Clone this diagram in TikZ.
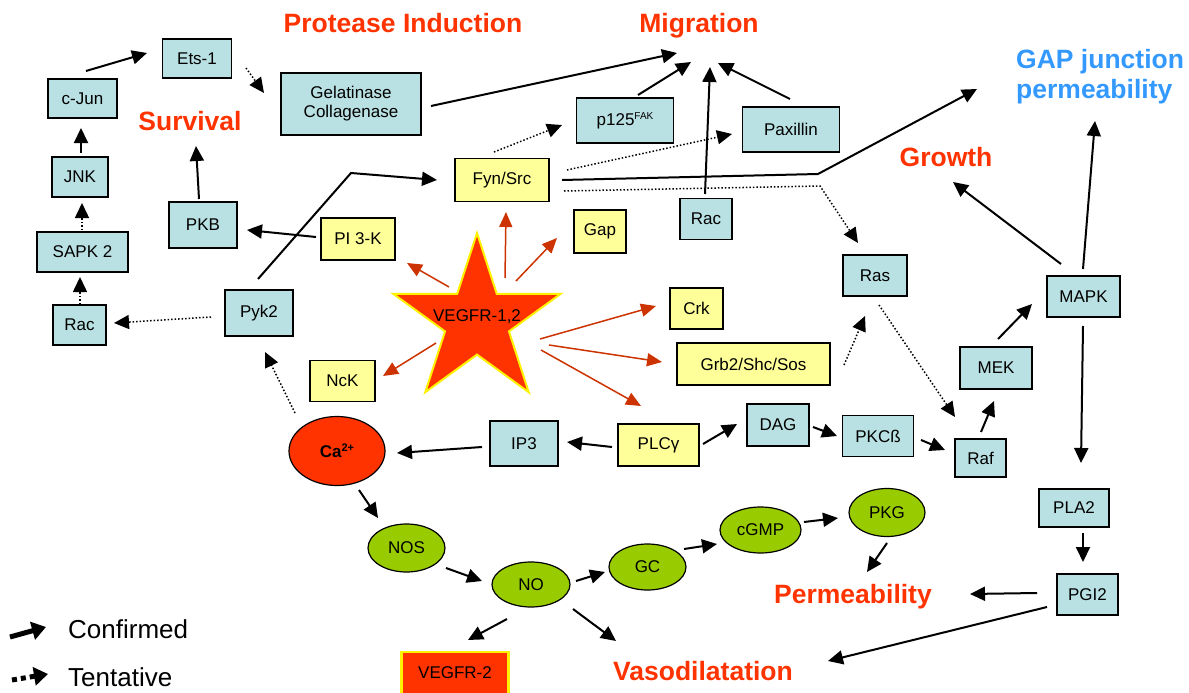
\documentclass[tikz,border=0pt]{standalone}
\usepackage{fontspec}
\setmainfont{Liberation Sans}
\usetikzlibrary{arrows.meta,shapes.geometric}
\definecolor{boxblue}{RGB}{185,224,226}
\definecolor{boxyellow}{RGB}{255,255,153}
\definecolor{vred}{RGB}{255,51,0}
\definecolor{vgreen}{RGB}{153,204,0}
\definecolor{arrred}{RGB}{204,51,0}
\definecolor{gapblue}{RGB}{51,153,255}

\begin{document}
\begin{tikzpicture}[x=1pt,y=-1pt,
  bx/.style 2 args={draw,line width=1.5pt,inner sep=0,minimum width=#1pt,minimum height=#2pt,font=\fontsize{17}{19}\selectfont},
  bb/.style 2 args={bx={#1}{#2},fill=boxblue},
  yb/.style 2 args={bx={#1}{#2},fill=boxyellow},
  gov/.style 2 args={ellipse,draw,line width=1.2pt,fill=vgreen,inner sep=0,minimum width=#1pt,minimum height=#2pt,font=\fontsize{17}{19}\selectfont},
  lab/.style={text=vred,font=\fontsize{26.5}{30}\selectfont\bfseries,inner sep=0,anchor=base},
  conf/.style={line width=2pt,-{Triangle[length=15pt,width=14pt]}},
  tent/.style={line width=1.5pt,dash pattern=on 1.5pt off 2pt,-{Triangle[length=15pt,width=14pt]}},
  vr/.style={arrred,line width=1.5pt,-{Triangle[length=15pt,width=13pt]}}]

\useasboundingbox (0,0) rectangle (1189,693);

\node[lab] (prot) at (403,33) {Protease Induction};
\node[lab] (mig) at (699,33) {Migration};
\node[lab] (surv) at (190,130) {Survival};
\node[lab] (grow) at (946,166) {Growth};
\node[lab] (perm) at (853,603) {Permeability};
\node[lab] (vaso) at (703,680) {Vasodilatation};
\node[lab,text=gapblue,anchor=north west,align=left] (gapj) at (1016,49) {GAP junction\\permeability};

\node[bb={69}{39}] (ets) at (197,58.5) {Ets-1};
\node[bb={69}{39}] (cjun) at (82.5,98.5) {c-Jun};
\node[bb={56}{40}] (jnk) at (80,177) {JNK};
\node[bb={91}{40}] (sapk) at (82.5,252) {SAPK 2};
\node[bb={53}{40}] (racl) at (79.5,325) {Rac};
\node[bb={68}{46}] (pkb) at (203,225) {PKB};
\node[bb={68}{46}] (pyk) at (259,313) {Pyk2};
\node[bb={140}{62},align=center] (gel) at (351,104) {Gelatinase\\Collagenase};
\node[bb={97}{45}] (p125) at (625,120.5) {p125\raisebox{6pt}{\fontsize{10}{10}\selectfont FAK}};
\node[bb={97}{45}] (pax) at (791,129.5) {Paxillin};
\node[bb={52}{41}] (racm) at (706,219) {Rac};
\node[bb={64}{41}] (ras) at (875,275.5) {Ras};
\node[bb={73}{41}] (mapk) at (1083.5,296.5) {MAPK};
\node[bb={72}{42}] (mek) at (996,368) {MEK};
\node[bb={51}{38}] (raf) at (980.5,458) {Raf};
\node[bb={71}{41}] (pkc) at (878,436) {PKCß};
\node[bb={62}{42}] (dag) at (778,425) {DAG};
\node[bb={68}{45}] (ip3) at (524,443.5) {IP3};
\node[bb={70}{38}] (pla) at (1074,508) {PLA2};
\node[bb={61}{41}] (pgi) at (1087.5,594.5) {PGI2};

\node[yb={94}{43}] (fyn) at (502,180) {Fyn/Src};
\node[yb={74}{42}] (pi3k) at (358,239) {PI 3-K};
\node[yb={52}{43}] (gap) at (600,231.5) {Gap};
\node[yb={53}{41}] (crk) at (696.5,308.5) {Crk};
\node[yb={153}{42}] (grb) at (753.5,364) {Grb2/Shc/Sos};
\node[yb={65}{41}] (nck) at (342.5,381) {NcK};
\node[yb={81}{42}] (plc) at (658.5,445) {PLCγ};

\node[ellipse,draw,line width=1.2pt,fill=vred,inner sep=0,minimum width=96pt,minimum height=69pt,
  font=\fontsize{17}{19}\selectfont\bfseries] (ca) at (337,451) {Ca\raisebox{6pt}{\fontsize{11}{11}\selectfont 2+}};
\node[gov={77}{48}] (nos) at (406.5,548) {NOS};
\node[gov={78}{45}] (no) at (531,584.5) {NO};
\node[gov={77}{46}] (gc) at (647.5,567) {GC};
\node[gov={81}{46}] (cgmp) at (760.5,530) {cGMP};
\node[gov={76}{48}] (pkg) at (887,512.5) {PKG};

\node[star,star points=5,star point ratio=2.618,minimum size=176pt,inner sep=0,draw=yellow,line width=2pt,
  fill=vred,font=\fontsize{17}{19}\selectfont] (vegf) at (477,321) {\smash{\makebox[0pt]{VEGFR-1,2}}};
\node[draw=yellow,line width=2.5pt,fill=vred,inner sep=0,minimum width=107pt,minimum height=45pt,
  font=\fontsize{17}{19}\selectfont] (veg2) at (455,674.5) {\raisebox{4pt}{VEGFR-2}};

\node[anchor=base west,inner sep=0,font=\fontsize{26}{30}\selectfont] (lconf) at (68,638) {Confirmed};
\node[anchor=base west,inner sep=0,font=\fontsize{26}{30}\selectfont] (ltent) at (68,686) {Tentative};
\draw[line width=5pt,-{Triangle[length=14pt,width=18pt]}] ([shift={(-58,-1)}]lconf.base west) -- ([shift={(-22,-11)}]lconf.base west);
\draw[line width=5pt,dash pattern=on 5pt off 4pt,-{Triangle[length=14pt,width=18pt]}] ([shift={(-56,-6)}]ltent.base west) -- ([shift={(-20,-12)}]ltent.base west);

\draw[conf] ([shift={(3.5,-27.5)}]cjun.center) -- ([shift={(-50,-5.5)}]ets.center);
\draw[conf] ([shift={(1,-24)}]jnk.center) -- ([shift={(-1.5,29.5)}]cjun.center);
\draw[conf] ([shift={(-4,-26)}]pkb.center) -- ([shift={(6,16)}]surv.base);
\draw[conf] ([shift={(80,2)}]gel.center) -- ([shift={(-22,20)}]mig.base);
\draw[conf] ([shift={(13,-25.5)}]p125.center) -- ([shift={(-8,29)}]mig.base);
\draw[conf] ([shift={(-1,-25)}]racm.center) -- ([shift={(11,34)}]mig.base);
\draw[conf] ([shift={(-1,-30.5)}]pax.center) -- ([shift={(19,30)}]mig.base);
\draw[conf] ([shift={(-1,-34)}]pyk.center) -- ++(93,-106) -- ([shift={(-65,0)}]fyn.center);
\draw[conf] ([shift={(-42,-2)}]pi3k.center) -- ([shift={(44,5)}]pkb.center);
\draw[conf] ([shift={(60,0)}]fyn.center) -- ++(256,-6) -- ([shift={(-39,40)}]gapj.north west);
\draw[conf] ([shift={(-22.5,-32.5)}]mapk.center) -- ([shift={(7,16)}]grow.base);
\draw[conf] ([shift={(-0.5,-27.5)}]mapk.center) -- ([shift={(79,72)}]gapj.north west);
\draw[conf] ([shift={(-0.5,29.5)}]mapk.center) -- ([shift={(7,-45)}]pla.center);
\draw[conf] ([shift={(2,-29)}]mek.center) -- ([shift={(-51.5,7.5)}]mapk.center);
\draw[conf] ([shift={(0.5,-26)}]raf.center) -- ([shift={(-2,33)}]mek.center);
\draw[conf] ([shift={(43,4)}]pkc.center) -- ([shift={(-35.5,-8)}]raf.center);
\draw[conf] ([shift={(35,2)}]dag.center) -- ([shift={(-41,0)}]pkc.center);
\draw[conf] ([shift={(44.5,-1)}]plc.center) -- ([shift={(-41,-1)}]dag.center);
\draw[conf] ([shift={(-46.5,2)}]plc.center) -- ([shift={(43,-1.5)}]ip3.center);
\draw[conf] ([shift={(-42,3.5)}]ip3.center) -- ([shift={(60,2)}]ca.center);
\draw[conf] ([shift={(22,39)}]ca.center) -- ([shift={(-28.5,-30)}]nos.center);
\draw[conf] ([shift={(39.5,20)}]nos.center) -- ([shift={(-49,-3.5)}]no.center);
\draw[conf] ([shift={(45,-3.5)}]no.center) -- ([shift={(-42.5,5)}]gc.center);
\draw[conf] ([shift={(36.5,-18)}]gc.center) -- ([shift={(-43.5,14)}]cgmp.center);
\draw[conf] ([shift={(43.5,-8)}]cgmp.center) -- ([shift={(-49,5.5)}]pkg.center);
\draw[conf] ([shift={(0,30.5)}]pkg.center) -- ([shift={(14,-31)}]perm.base);
\draw[conf] ([shift={(-24,34.5)}]no.center) -- ([shift={(13,-34.5)}]veg2.center);
\draw[conf] ([shift={(42,24.5)}]no.center) -- ([shift={(-87,-39)}]vaso.base);
\draw[conf] ([shift={(9,25)}]pla.center) -- ([shift={(-4.5,-32.5)}]pgi.center);
\draw[conf] ([shift={(-50.5,-1.5)}]pgi.center) -- ([shift={(117,-9)}]perm.base);
\draw[conf] ([shift={(-40.5,12.5)}]pgi.center) -- ([shift={(125,-19)}]vaso.base);

\draw[tent] ([shift={(49,9.5)}]ets.center) -- ([shift={(-87,-11)}]gel.center);
\draw[tent] ([shift={(-0.5,-22)}]sapk.center) -- ([shift={(2,26)}]jnk.center);
\draw[tent] ([shift={(0.5,-21)}]racl.center) -- ([shift={(-2.5,25)}]sapk.center);
\draw[tent] ([shift={(-48,4)}]pyk.center) -- ([shift={(34.5,-2)}]racl.center);
\draw[tent] ([shift={(-42,-38)}]ca.center) -- ([shift={(6,39)}]pyk.center);
\draw[tent] ([shift={(-8,-28)}]fyn.center) -- ([shift={(-63,4.5)}]p125.center);
\draw[tent] ([shift={(65,-10)}]fyn.center) -- ([shift={(-59,4.5)}]pax.center);
\draw[tent] ([shift={(62,11)}]fyn.center) -- ++(256,-5) -- ([shift={(-17,-32.5)}]ras.center);
\draw[tent] ([shift={(90.5,1)}]grb.center) -- ([shift={(-10,40.5)}]ras.center);
\draw[tent] ([shift={(4,29.5)}]ras.center) -- ([shift={(-25.5,-41)}]raf.center);

\begin{scope}[vr]
\draw ([shift={(-28,-34)}]vegf.center) -- ([shift={(49,24)}]pi3k.center);
\draw ([shift={(28,-43)}]vegf.center) -- ([shift={(4,32)}]fyn.center);
\draw ([shift={(39,-40)}]vegf.center) -- ([shift={(-43,6.5)}]gap.center);
\draw ([shift={(63,18)}]vegf.center) -- ([shift={(-40.5,-2.5)}]crk.center);
\draw ([shift={(72,24)}]vegf.center) -- ([shift={(-91.5,-2)}]grb.center);
\draw ([shift={(64,29)}]vegf.center) -- ([shift={(-17.5,-39)}]plc.center);
\draw ([shift={(-41,22)}]vegf.center) -- ([shift={(40.5,-5)}]nck.center);
\end{scope}
\end{tikzpicture}
\end{document}
